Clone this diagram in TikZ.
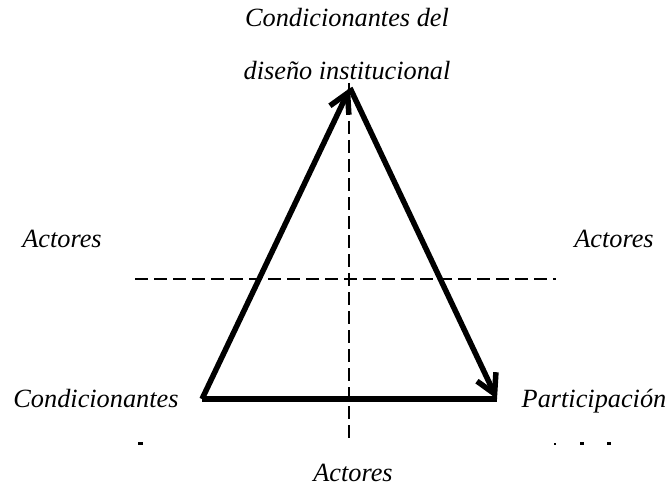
\documentclass[tikz,border=0pt]{standalone}
\usepackage{fontspec}
\setmainfont{Liberation Serif}
\usetikzlibrary{arrows.meta}
\begin{document}
\begin{tikzpicture}[x=1pt,y=-1pt,
  lbl/.style={font=\fontsize{26.3}{30}\selectfont\itshape, inner sep=0pt, anchor=base},
  edge/.style={line width=5.5pt},
  headtip/.style={-{Straight Barb[length=19pt,width=21pt]}},
  guide/.style={line width=1.4pt, dash pattern=on 13pt off 6pt}]
\useasboundingbox (0,0) rectangle (671,489);
% guides
\coordinate (vt) at (349,83);
\coordinate (vb) at (349,444);
\coordinate (hl) at (135,279);
\coordinate (hr) at (556,279);
\draw[guide] (vt) -- (vb);
\draw[guide] (hl) -- (hr);
% triangle
\coordinate (A) at (350,88);
\coordinate (L) at (202,399);
\coordinate (R) at (497,399);
\draw[edge] (L) -- (R);
\draw[edge,headtip] (L) -- (A);
\draw[edge,headtip] (A) -- (R);
% labels
\node[lbl] (t1) at (347,27) {Condicionantes del};
\node[lbl] (t2) at (347,80) {diseño institucional};
\node[lbl] (al) at (62,247) {Actores};
\node[lbl] (ar) at (614,247) {Actores};
\node[lbl] (cl) at (96,407) {Condicionantes};
\node[lbl] (pr) at (594,407) {Participación};
\node[lbl] (ab) at (353,481) {Actores};
% clipped specks
\fill (138,442) rectangle (143,445);
\fill (554,443) rectangle (556,445);
\fill (580,442) rectangle (584,445);
\fill (607,442) rectangle (611,445);
\end{tikzpicture}
\end{document}
